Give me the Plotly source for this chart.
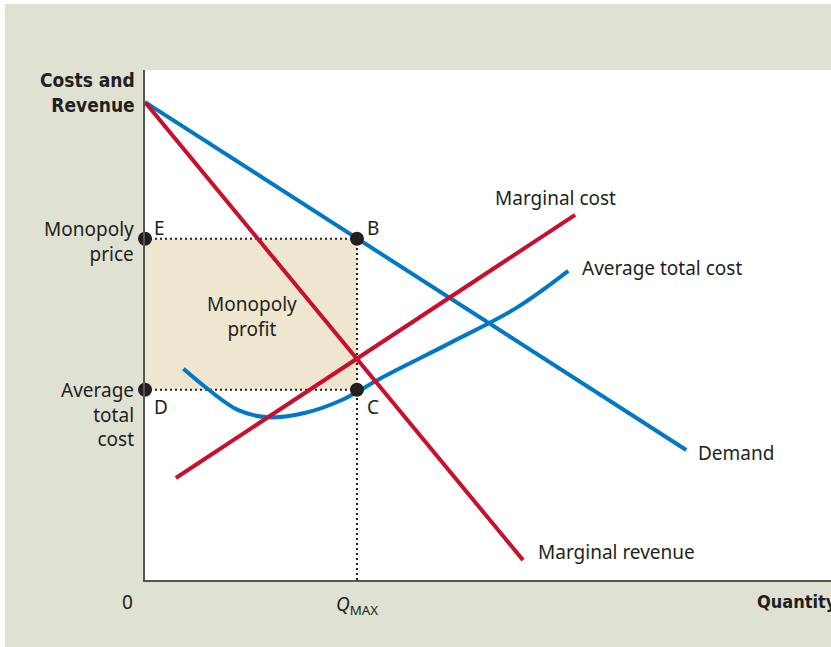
import plotly.graph_objects as go

# curves (quantity, cost/revenue)
demand_q = [0, 78.9]
demand_p = [93.7, 25.5]
mr_q = [0, 55.1]
mr_p = [93.7, 3.9]
mc_q = [4.5, 62.7]
mc_p = [20.0, 71.6]
atc_q = [5.6, 9.2, 13.6, 18.0, 23.4, 28.7, 34.7, 44.5, 54.2, 61.7]
atc_p = [41.4, 37.4, 33.3, 31.9, 32.8, 35.3, 39.8, 46.5, 53.4, 60.6]

q_max = 30.9
monopoly_price = 66.9
atc_at_q = 37.3

RED = "#c8102e"
BLUE = "#0077c8"
INK = "#231f20"
FONT = "Noto Sans"
NARROW = "Liberation Sans Narrow, DejaVu Sans Condensed, Roboto Condensed, Roboto"

fig = go.Figure()

# monopoly profit rectangle
fig.add_trace(go.Scatter(
    x=[0, q_max, q_max, 0, 0],
    y=[monopoly_price, monopoly_price, atc_at_q, atc_at_q, monopoly_price],
    mode="lines", fill="toself", fillcolor="#efe6cf",
    line=dict(width=0), hoverinfo="skip"))

# dotted guides
dot = dict(color=INK, width=2, dash="2px,3px")
fig.add_trace(go.Scatter(x=[0, q_max], y=[monopoly_price, monopoly_price],
                         mode="lines", line=dot, hoverinfo="skip"))
fig.add_trace(go.Scatter(x=[0, q_max], y=[atc_at_q, atc_at_q],
                         mode="lines", line=dot, hoverinfo="skip"))
fig.add_trace(go.Scatter(x=[q_max, q_max], y=[0, monopoly_price],
                         mode="lines", line=dot, hoverinfo="skip"))

# curves
fig.add_trace(go.Scatter(x=atc_q, y=atc_p, mode="lines",
                         line=dict(color=BLUE, width=4, shape="spline", smoothing=1.0)))
fig.add_trace(go.Scatter(x=demand_q, y=demand_p, mode="lines",
                         line=dict(color=BLUE, width=4), cliponaxis=False))
fig.add_trace(go.Scatter(x=mc_q, y=mc_p, mode="lines",
                         line=dict(color=RED, width=4)))
fig.add_trace(go.Scatter(x=mr_q, y=mr_p, mode="lines",
                         line=dict(color=RED, width=4), cliponaxis=False))

# points E, B, D, C
fig.add_trace(go.Scatter(
    x=[0, q_max, 0, q_max],
    y=[monopoly_price, monopoly_price, atc_at_q, atc_at_q],
    mode="markers", marker=dict(size=14, color=INK), cliponaxis=False))

base = dict(showarrow=False, font=dict(family=FONT, size=19, color=INK))
ann = [
    dict(x=0, y=monopoly_price, text="E", xanchor="left", xshift=7, yshift=11),
    dict(x=q_max, y=monopoly_price, text="B", xanchor="left", xshift=8, yshift=11),
    dict(x=0, y=atc_at_q, text="D", xanchor="left", xshift=7, yshift=-17),
    dict(x=q_max, y=atc_at_q, text="C", xanchor="left", xshift=8, yshift=-17),
    dict(x=0, y=monopoly_price, text="Monopoly<br>price", xanchor="right",
         align="right", xshift=-9, yshift=-3),
    dict(x=0, y=atc_at_q, text="Average<br>total<br>cost", xanchor="right",
         align="right", xshift=-9, yshift=-25),
    dict(x=15.6, y=51.6, text="Monopoly<br>profit", align="center"),
    dict(x=59.8, y=74.9, text="Marginal cost"),
    dict(x=63.4, y=61.2, text="Average total cost", xanchor="left"),
    dict(x=80.3, y=24.9, text="Demand", xanchor="left"),
    dict(x=57.0, y=5.5, text="Marginal revenue", xanchor="left"),
    dict(x=-0.026, y=-0.043, xref="paper", yref="paper", text="0",
         xanchor="center", yanchor="middle"),
    dict(x=q_max, y=-0.049, yref="paper", text="<i>Q</i><sub>MAX</sub>",
         xanchor="center", yanchor="middle"),
]
annotations = [dict(base, **a) for a in ann]
annotations.append(dict(x=-0.0146, y=0.955, xref="paper", yref="paper",
                        text="<b>Costs and<br>Revenue</b>", xanchor="right",
                        yanchor="middle", align="right", showarrow=False, xshift=2,
                        font=dict(family=NARROW, size=19, color=INK)))
annotations.append(dict(x=88.9, y=-0.043, yref="paper", text="<b>Quantity</b>",
                        xanchor="left", yanchor="middle", showarrow=False,
                        font=dict(family=NARROW, size=18, color=INK)))

fig.update_layout(
    width=831, height=647,
    margin=dict(l=145, r=0, t=70, b=67),
    paper_bgcolor="#dfe1d3",
    plot_bgcolor="white",
    showlegend=False,
    annotations=annotations,
    shapes=[
        dict(type="rect", xref="paper", yref="paper", x0=-0.22, x1=1.01,
             y0=1.1294, y1=1.15, fillcolor="white", line=dict(width=0), layer="above"),
        dict(type="rect", xref="paper", yref="paper", x0=-0.22, x1=-0.2041,
             y0=-0.2, y1=1.15, fillcolor="white", line=dict(width=0), layer="above"),
    ],
)
fig.update_xaxes(range=[0, 100], showgrid=False, zeroline=False, showticklabels=False,
                 showline=True, linecolor="#555555", linewidth=1.5, ticks="")
fig.update_yaxes(range=[0, 100], showgrid=False, zeroline=False, showticklabels=False,
                 showline=True, linecolor="#555555", linewidth=1.5, ticks="")

fig.write_html("out.html", config={"displayModeBar": False},
               post_script="document.body.style.margin='0';")
